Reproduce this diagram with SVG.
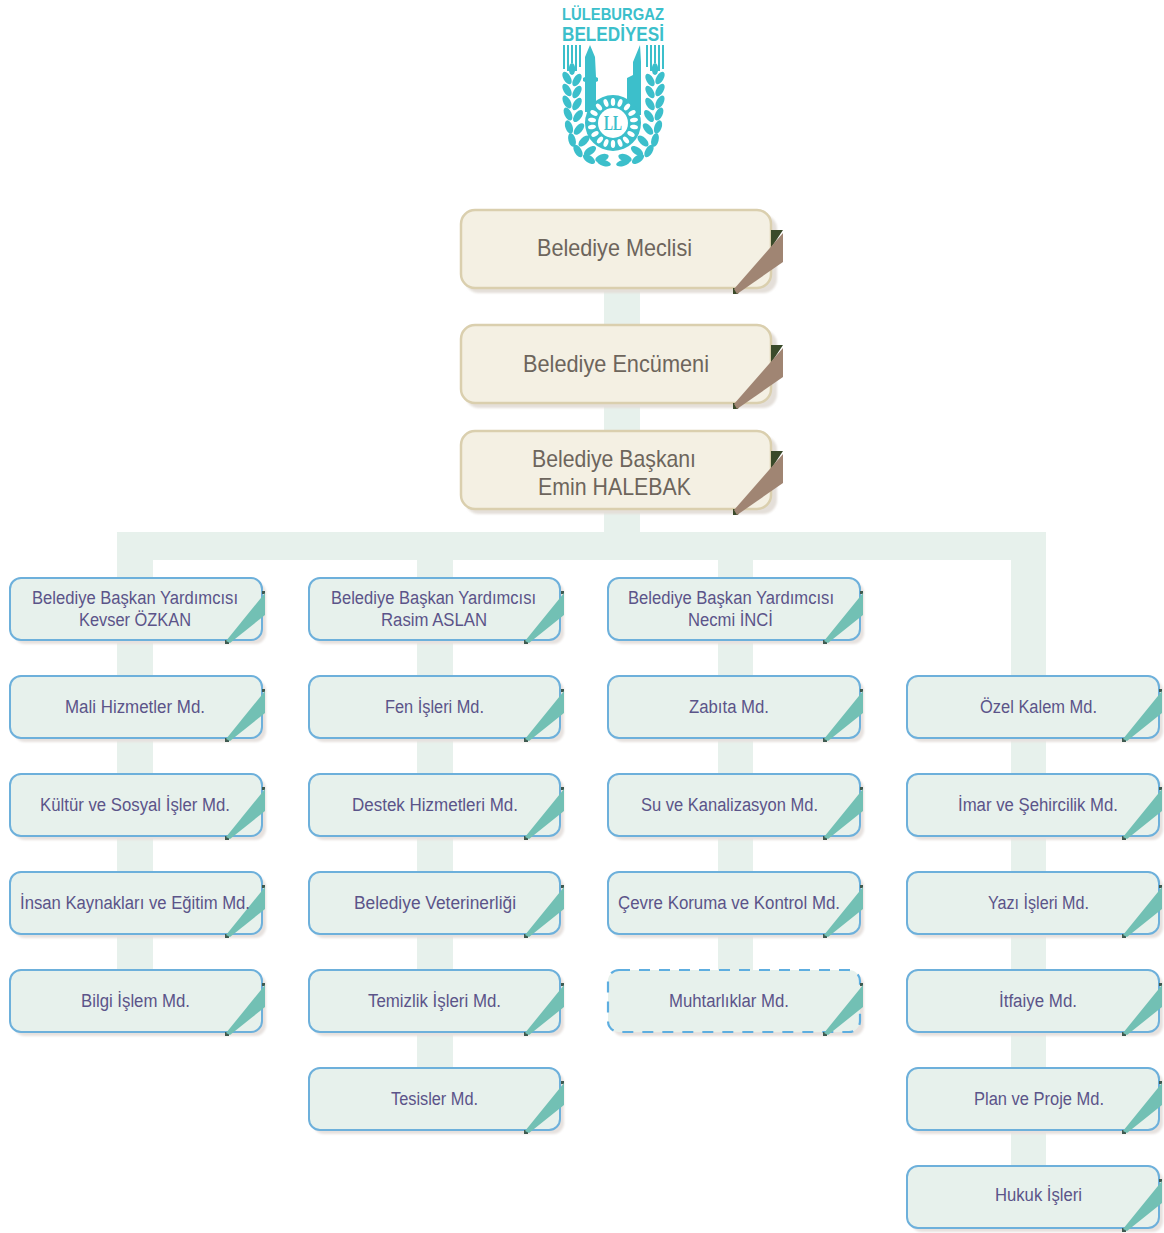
<svg xmlns="http://www.w3.org/2000/svg" width="1164" height="1233" viewBox="0 0 1164 1233">
<style>
text{font-family:"Liberation Sans",Arial,sans-serif}
.big{font-size:24px;fill:#6d655c}
.sm{font-size:18px;fill:#5b5489}
.tbox{fill:#f4f0e3;stroke:#dacfae;stroke-width:2.5}
.bbox{fill:#e7f1ec;stroke:#6db0db;stroke-width:2}
.dash{fill:#e7f1ec;stroke:#5eaee0;stroke-width:2.2;stroke-dasharray:11 9}
.tsh{fill:#e4dfd9}
.bsh{fill:#e6e1de}
.conn{fill:#e7f1ec}
.t{fill:#3cbfcb}
.w{fill:#fff}
</style>
<defs>
<filter id="soft" x="-10%" y="-20%" width="120%" height="140%"><feGaussianBlur stdDeviation="1"/></filter>
<g id="ftop">
<polygon points="771,230 783,230 771,248" fill="#3a4a2a"/>
<polygon points="733,288 740,288 738,294 733,294" fill="#3a4a2a"/>
<polygon points="783,233 783,262 737,294 734,289" fill="#a08573"/>
</g>
<g id="fblue">
<polygon points="262,591 265,591 265,594 262,594" fill="#3f5a50"/>
<polygon points="225,640 229,640 229,644 225,644" fill="#3f5a50"/>
<polygon points="265,593 265,615 230,643 226,641" fill="#72c0b4"/>
</g>
<g id="wheat">
<g class="t">
<rect x="563" y="45" width="2" height="24"/><rect x="567" y="45" width="2" height="26"/><rect x="571" y="45" width="2" height="18"/><rect x="575" y="45" width="2" height="26"/><rect x="579" y="45" width="2" height="22"/>
<ellipse cx="572" cy="69" rx="3.2" ry="6"/>
<ellipse cx="567" cy="78" rx="3.6" ry="7" transform="rotate(-30 567 78)"/>
<ellipse cx="577" cy="80" rx="3.6" ry="7" transform="rotate(30 577 80)"/>
<ellipse cx="567" cy="90" rx="3.6" ry="7" transform="rotate(-30 567 90)"/>
<ellipse cx="577" cy="92" rx="3.6" ry="7" transform="rotate(30 577 92)"/>
<ellipse cx="567" cy="102" rx="3.6" ry="7" transform="rotate(-28 567 102)"/>
<ellipse cx="577" cy="104" rx="3.6" ry="7" transform="rotate(32 577 104)"/>
<ellipse cx="568" cy="114" rx="3.6" ry="7" transform="rotate(-25 568 114)"/>
<ellipse cx="578" cy="116" rx="3.6" ry="7" transform="rotate(35 578 116)"/>
<ellipse cx="569" cy="127" rx="3.6" ry="7" transform="rotate(-20 569 127)"/>
<ellipse cx="579" cy="129" rx="3.6" ry="7" transform="rotate(40 579 129)"/>
<ellipse cx="572" cy="140" rx="3.6" ry="7" transform="rotate(-15 572 140)"/>
<ellipse cx="584" cy="141" rx="3.6" ry="7" transform="rotate(45 584 141)"/>
<ellipse cx="578" cy="151" rx="3.6" ry="7" transform="rotate(-30 578 151)"/>
<ellipse cx="590" cy="151" rx="3.6" ry="7" transform="rotate(55 590 151)"/>
<ellipse cx="589" cy="159" rx="3.6" ry="7" transform="rotate(-55 589 159)"/>
<ellipse cx="602" cy="158" rx="3.6" ry="7" transform="rotate(70 602 158)"/>
<ellipse cx="604" cy="163" rx="3" ry="7" transform="rotate(-75 604 163)"/>
</g>
</g>
</defs>
<g id="connectors" class="conn">
<rect x="604" y="288" width="36" height="244"/>
<rect x="118" y="532" width="928" height="28"/>
<rect x="117" y="532" width="36" height="438"/>
<rect x="417" y="532" width="36" height="536"/>
<rect x="718" y="532" width="35" height="438"/>
<rect x="1011" y="532" width="35" height="634"/>
</g>
<g id="logo">
<text x="562" y="20" font-size="17" font-weight="700" class="t" textLength="102" lengthAdjust="spacingAndGlyphs">LÜLEBURGAZ</text>
<text x="562" y="41" font-size="20" font-weight="700" class="t" textLength="102" lengthAdjust="spacingAndGlyphs">BELEDİYESİ</text>
<use href="#wheat"/>
<use href="#wheat" transform="translate(1227,0) scale(-1,1)"/>
<polygon class="t" points="590,45 595,57 596,77 598,78 598,81 596,82 596,112 585,112 585,82 583,81 583,78 585,77 585,57"/>
<polygon class="t" points="640,45 641,62 641,115 627,115 627,78 633,75 633,62"/>
<circle class="t" cx="613" cy="123" r="28"/>
<g class="w">
<ellipse cx="613" cy="102" rx="2.2" ry="4"/>
<ellipse cx="620" cy="103" rx="2.2" ry="4" transform="rotate(20 620 103)"/>
<ellipse cx="627" cy="107" rx="2.2" ry="4" transform="rotate(40 627 107)"/>
<ellipse cx="632" cy="113" rx="2.2" ry="4" transform="rotate(60 632 113)"/>
<ellipse cx="634" cy="120" rx="2.2" ry="4" transform="rotate(80 634 120)"/>
<ellipse cx="634" cy="127" rx="2.2" ry="4" transform="rotate(100 634 127)"/>
<ellipse cx="631" cy="134" rx="2.2" ry="4" transform="rotate(120 631 134)"/>
<ellipse cx="626" cy="140" rx="2.2" ry="4" transform="rotate(140 626 140)"/>
<ellipse cx="620" cy="143" rx="2.2" ry="4" transform="rotate(160 620 143)"/>
<ellipse cx="613" cy="144" rx="2.2" ry="4"/>
<ellipse cx="606" cy="143" rx="2.2" ry="4" transform="rotate(-160 606 143)"/>
<ellipse cx="600" cy="140" rx="2.2" ry="4" transform="rotate(-140 600 140)"/>
<ellipse cx="595" cy="134" rx="2.2" ry="4" transform="rotate(-120 595 134)"/>
<ellipse cx="592" cy="127" rx="2.2" ry="4" transform="rotate(-100 592 127)"/>
<ellipse cx="592" cy="120" rx="2.2" ry="4" transform="rotate(-80 592 120)"/>
<ellipse cx="594" cy="113" rx="2.2" ry="4" transform="rotate(-60 594 113)"/>
<ellipse cx="599" cy="107" rx="2.2" ry="4" transform="rotate(-40 599 107)"/>
<ellipse cx="606" cy="103" rx="2.2" ry="4" transform="rotate(-20 606 103)"/>
<circle cx="613" cy="123" r="15"/>
</g>
<text x="604" y="130" font-size="20" font-weight="700" style="font-family:'Liberation Serif',serif" class="t" textLength="18" lengthAdjust="spacingAndGlyphs">LL</text>
</g>
<g id="n-meclis"><rect class="tsh" x="465" y="215" width="312" height="78" rx="14" filter="url(#soft)"/><rect class="tbox" x="461" y="210" width="310" height="78" rx="14"/><use href="#ftop"/><text class="big" x="537" y="256" textLength="155" lengthAdjust="spacingAndGlyphs">Belediye Meclisi</text></g>
<g id="n-encumen"><rect class="tsh" x="465" y="330" width="312" height="78" rx="14" filter="url(#soft)"/><rect class="tbox" x="461" y="325" width="310" height="78" rx="14"/><use href="#ftop" y="115"/><text class="big" x="523" y="372" textLength="186" lengthAdjust="spacingAndGlyphs">Belediye Encümeni</text></g>
<g id="n-baskan"><rect class="tsh" x="465" y="436" width="312" height="78" rx="14" filter="url(#soft)"/><rect class="tbox" x="461" y="431" width="310" height="78" rx="14"/><use href="#ftop" y="221"/><text class="big" x="532" y="467" textLength="164" lengthAdjust="spacingAndGlyphs">Belediye Başkanı</text><text class="big" x="538" y="495" textLength="153" lengthAdjust="spacingAndGlyphs">Emin HALEBAK</text></g>

<g id="c1-a"><rect class="bsh" x="14" y="582" width="252" height="62" rx="11" filter="url(#soft)"/><rect class="bbox" x="10" y="578" width="252" height="62" rx="11"/><use href="#fblue"/><text class="sm" x="32" y="604" textLength="206" lengthAdjust="spacingAndGlyphs">Belediye Başkan Yardımcısı</text><text class="sm" x="79" y="626" textLength="112" lengthAdjust="spacingAndGlyphs">Kevser ÖZKAN</text></g>
<g id="c1-b"><rect class="bsh" x="14" y="680" width="252" height="62" rx="11" filter="url(#soft)"/><rect class="bbox" x="10" y="676" width="252" height="62" rx="11"/><use href="#fblue" y="98"/><text class="sm" x="65" y="713" textLength="140" lengthAdjust="spacingAndGlyphs">Mali Hizmetler Md.</text></g>
<g id="c1-c"><rect class="bsh" x="14" y="778" width="252" height="62" rx="11" filter="url(#soft)"/><rect class="bbox" x="10" y="774" width="252" height="62" rx="11"/><use href="#fblue" y="196"/><text class="sm" x="40" y="811" textLength="190" lengthAdjust="spacingAndGlyphs">Kültür ve Sosyal İşler Md.</text></g>
<g id="c1-d"><rect class="bsh" x="14" y="876" width="252" height="62" rx="11" filter="url(#soft)"/><rect class="bbox" x="10" y="872" width="252" height="62" rx="11"/><use href="#fblue" y="294"/><text class="sm" x="20" y="909" textLength="230" lengthAdjust="spacingAndGlyphs">İnsan Kaynakları ve Eğitim Md.</text></g>
<g id="c1-e"><rect class="bsh" x="14" y="974" width="252" height="62" rx="11" filter="url(#soft)"/><rect class="bbox" x="10" y="970" width="252" height="62" rx="11"/><use href="#fblue" y="392"/><text class="sm" x="81" y="1007" textLength="109" lengthAdjust="spacingAndGlyphs">Bilgi İşlem Md.</text></g>

<g id="c2-a"><rect class="bsh" x="313" y="582" width="251" height="62" rx="11" filter="url(#soft)"/><rect class="bbox" x="309" y="578" width="251" height="62" rx="11"/><use href="#fblue" x="299"/><text class="sm" x="331" y="604" textLength="205" lengthAdjust="spacingAndGlyphs">Belediye Başkan Yardımcısı</text><text class="sm" x="381" y="626" textLength="106" lengthAdjust="spacingAndGlyphs">Rasim ASLAN</text></g>
<g id="c2-b"><rect class="bsh" x="313" y="680" width="251" height="62" rx="11" filter="url(#soft)"/><rect class="bbox" x="309" y="676" width="251" height="62" rx="11"/><use href="#fblue" x="299" y="98"/><text class="sm" x="385" y="713" textLength="99" lengthAdjust="spacingAndGlyphs">Fen İşleri Md.</text></g>
<g id="c2-c"><rect class="bsh" x="313" y="778" width="251" height="62" rx="11" filter="url(#soft)"/><rect class="bbox" x="309" y="774" width="251" height="62" rx="11"/><use href="#fblue" x="299" y="196"/><text class="sm" x="352" y="811" textLength="166" lengthAdjust="spacingAndGlyphs">Destek Hizmetleri Md.</text></g>
<g id="c2-d"><rect class="bsh" x="313" y="876" width="251" height="62" rx="11" filter="url(#soft)"/><rect class="bbox" x="309" y="872" width="251" height="62" rx="11"/><use href="#fblue" x="299" y="294"/><text class="sm" x="354" y="909" textLength="162" lengthAdjust="spacingAndGlyphs">Belediye Veterinerliği</text></g>
<g id="c2-e"><rect class="bsh" x="313" y="974" width="251" height="62" rx="11" filter="url(#soft)"/><rect class="bbox" x="309" y="970" width="251" height="62" rx="11"/><use href="#fblue" x="299" y="392"/><text class="sm" x="368" y="1007" textLength="133" lengthAdjust="spacingAndGlyphs">Temizlik İşleri Md.</text></g>
<g id="c2-f"><rect class="bsh" x="313" y="1072" width="251" height="62" rx="11" filter="url(#soft)"/><rect class="bbox" x="309" y="1068" width="251" height="62" rx="11"/><use href="#fblue" x="299" y="490"/><text class="sm" x="391" y="1105" textLength="87" lengthAdjust="spacingAndGlyphs">Tesisler Md.</text></g>

<g id="c3-a"><rect class="bsh" x="612" y="582" width="252" height="62" rx="11" filter="url(#soft)"/><rect class="bbox" x="608" y="578" width="252" height="62" rx="11"/><use href="#fblue" x="598"/><text class="sm" x="628" y="604" textLength="206" lengthAdjust="spacingAndGlyphs">Belediye Başkan Yardımcısı</text><text class="sm" x="688" y="626" textLength="85" lengthAdjust="spacingAndGlyphs">Necmi İNCİ</text></g>
<g id="c3-b"><rect class="bsh" x="612" y="680" width="252" height="62" rx="11" filter="url(#soft)"/><rect class="bbox" x="608" y="676" width="252" height="62" rx="11"/><use href="#fblue" x="598" y="98"/><text class="sm" x="689" y="713" textLength="80" lengthAdjust="spacingAndGlyphs">Zabıta Md.</text></g>
<g id="c3-c"><rect class="bsh" x="612" y="778" width="252" height="62" rx="11" filter="url(#soft)"/><rect class="bbox" x="608" y="774" width="252" height="62" rx="11"/><use href="#fblue" x="598" y="196"/><text class="sm" x="641" y="811" textLength="177" lengthAdjust="spacingAndGlyphs">Su ve Kanalizasyon Md.</text></g>
<g id="c3-d"><rect class="bsh" x="612" y="876" width="252" height="62" rx="11" filter="url(#soft)"/><rect class="bbox" x="608" y="872" width="252" height="62" rx="11"/><use href="#fblue" x="598" y="294"/><text class="sm" x="618" y="909" textLength="222" lengthAdjust="spacingAndGlyphs">Çevre Koruma ve Kontrol Md.</text></g>
<g id="c3-e"><rect class="bsh" x="612" y="974" width="252" height="62" rx="11" filter="url(#soft)"/><rect class="dash" x="608" y="970" width="252" height="62" rx="11"/><use href="#fblue" x="598" y="392"/><text class="sm" x="669" y="1007" textLength="120" lengthAdjust="spacingAndGlyphs">Muhtarlıklar Md.</text></g>

<g id="c4-b"><rect class="bsh" x="911" y="680" width="252" height="62" rx="11" filter="url(#soft)"/><rect class="bbox" x="907" y="676" width="252" height="62" rx="11"/><use href="#fblue" x="897" y="98"/><text class="sm" x="980" y="713" textLength="117" lengthAdjust="spacingAndGlyphs">Özel Kalem Md.</text></g>
<g id="c4-c"><rect class="bsh" x="911" y="778" width="252" height="62" rx="11" filter="url(#soft)"/><rect class="bbox" x="907" y="774" width="252" height="62" rx="11"/><use href="#fblue" x="897" y="196"/><text class="sm" x="958" y="811" textLength="160" lengthAdjust="spacingAndGlyphs">İmar ve Şehircilik Md.</text></g>
<g id="c4-d"><rect class="bsh" x="911" y="876" width="252" height="62" rx="11" filter="url(#soft)"/><rect class="bbox" x="907" y="872" width="252" height="62" rx="11"/><use href="#fblue" x="897" y="294"/><text class="sm" x="988" y="909" textLength="101" lengthAdjust="spacingAndGlyphs">Yazı İşleri Md.</text></g>
<g id="c4-e"><rect class="bsh" x="911" y="974" width="252" height="62" rx="11" filter="url(#soft)"/><rect class="bbox" x="907" y="970" width="252" height="62" rx="11"/><use href="#fblue" x="897" y="392"/><text class="sm" x="999" y="1007" textLength="78" lengthAdjust="spacingAndGlyphs">İtfaiye Md.</text></g>
<g id="c4-f"><rect class="bsh" x="911" y="1072" width="252" height="62" rx="11" filter="url(#soft)"/><rect class="bbox" x="907" y="1068" width="252" height="62" rx="11"/><use href="#fblue" x="897" y="490"/><text class="sm" x="974" y="1105" textLength="130" lengthAdjust="spacingAndGlyphs">Plan ve Proje Md.</text></g>
<g id="c4-g"><rect class="bsh" x="911" y="1170" width="252" height="62" rx="11" filter="url(#soft)"/><rect class="bbox" x="907" y="1166" width="252" height="62" rx="11"/><use href="#fblue" x="897" y="588"/><text class="sm" x="995" y="1201" textLength="87" lengthAdjust="spacingAndGlyphs">Hukuk İşleri</text></g>
</svg>
